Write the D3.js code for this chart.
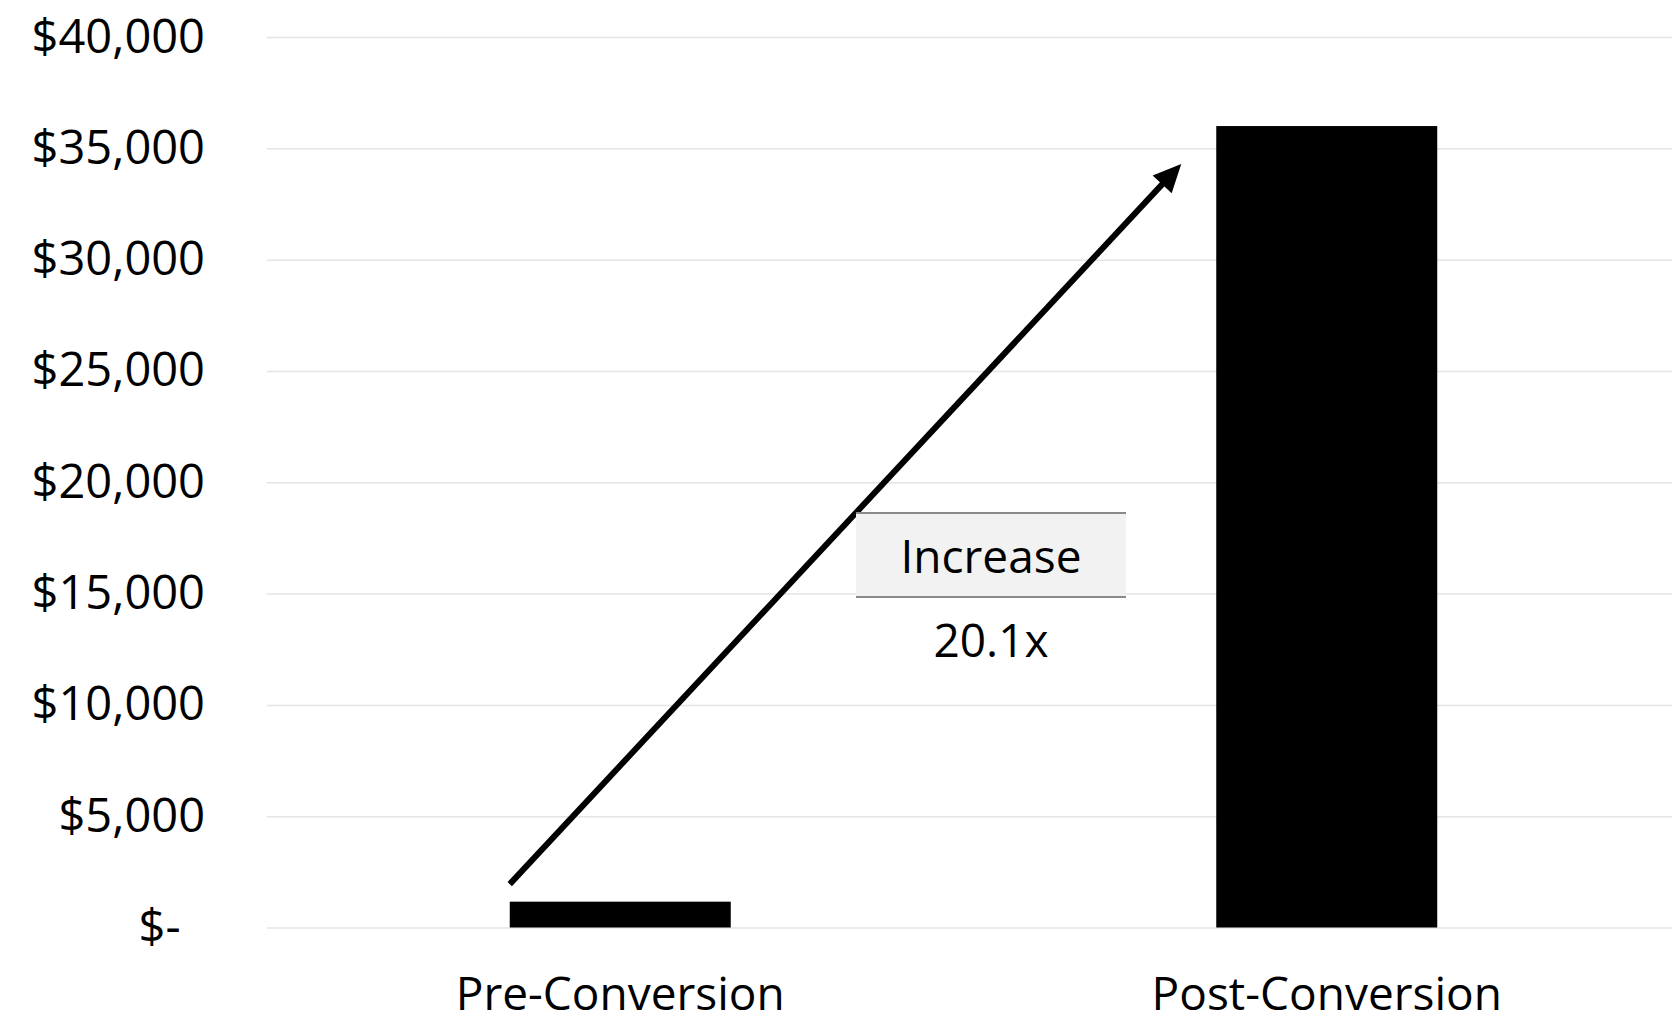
<!DOCTYPE html>
<html>
<head>
<meta charset="utf-8">
<script src="https://cdn.jsdelivr.net/npm/d3@7"></script>
<style>
  html, body { margin: 0; padding: 0; background: #fff; }
  svg { display: block; font-family: "Open Sans", "Noto Sans", sans-serif; }
</style>
</head>
<body>
<svg id="chart" width="1672" height="1022"></svg>
<script>
// Monthly value before and after conversion
const categories = ["Pre-Conversion", "Post-Conversion"];
const values = [1160, 36000];
const yTicks = [0, 5000, 10000, 15000, 20000, 25000, 30000, 35000, 40000];
const increaseTitle = "Increase";
const increaseText = "20.1x";

const W = 1672, H = 1022;
const plotLeft = 267, plotRight = 1680;
const plotTop = 37, plotBottom = 927.5;

const svg = d3.select("#chart");

const x = d3.scaleBand()
  .domain(categories)
  .range([plotLeft, plotRight])
  .paddingInner(0.6872)
  .paddingOuter(0.3436);

const y = d3.scaleLinear()
  .domain([0, 40000])
  .range([plotBottom, plotTop]);

const fmt = d => d === 0 ? "$-\u00A0\u00A0" : "$" + d3.format(",")(d);

// Y axis with gridlines
const yAxis = svg.append("g")
  .attr("transform", `translate(${plotLeft},0)`)
  .call(d3.axisLeft(y)
    .tickValues(yTicks)
    .tickSize(-(W - plotLeft))
    .tickPadding(62)
    .tickFormat(fmt));
yAxis.select(".domain").remove();
yAxis.selectAll(".tick line")
  .attr("stroke", "#e4e4e4")
  .attr("stroke-width", 1.5);
yAxis.selectAll(".tick text")
  .attr("fill", "#000")
  .style("font-size", "47px")
  .style("font-family", "'Open Sans', sans-serif");

// Bars
svg.append("g")
  .selectAll("rect")
  .data(categories)
  .join("rect")
  .attr("x", d => x(d))
  .attr("width", x.bandwidth())
  .attr("y", (d, i) => y(values[i]))
  .attr("height", (d, i) => y(0) - y(values[i]))
  .attr("fill", "#000");

// Category labels
const xAxis = svg.append("g")
  .attr("transform", `translate(0,${plotBottom})`)
  .call(d3.axisBottom(x).tickSize(0).tickPadding(0));
xAxis.select(".domain").remove();
xAxis.selectAll(".tick text")
  .attr("y", 82)
  .attr("dy", 0)
  .attr("fill", "#000")
  .style("font-size", "46px")
  .style("font-family", "'Open Sans', sans-serif");

// Growth arrow from the first bar towards the second
const x0 = x(categories[0]), y0 = y(1950);
const x1 = x(categories[1]) - 35, y1 = y(34300);
const dx = x1 - x0, dy = y1 - y0;
const len = Math.hypot(dx, dy);
const ux = dx / len, uy = dy / len;
const headLen = 28, headHalf = 13;
const bx = x1 - ux * headLen, by = y1 - uy * headLen;

svg.append("line")
  .attr("x1", x0).attr("y1", y0)
  .attr("x2", bx + ux * 2).attr("y2", by + uy * 2)
  .attr("stroke", "#000")
  .attr("stroke-width", 6);
svg.append("path")
  .attr("d", `M${x1},${y1}L${bx - uy * headHalf},${by + ux * headHalf}L${bx + uy * headHalf},${by - ux * headHalf}Z`)
  .attr("fill", "#000");

// Increase callout
const box = svg.append("g");
const bxL = 856, bxR = 1126, bTop = 513, bBot = 597;
box.append("rect")
  .attr("x", bxL).attr("y", bTop)
  .attr("width", bxR - bxL).attr("height", bBot - bTop)
  .attr("fill", "#f2f2f2");
box.selectAll("line")
  .data([bTop, bBot])
  .join("line")
  .attr("x1", bxL).attr("x2", bxR)
  .attr("y1", d => d).attr("y2", d => d)
  .attr("stroke", "#8a8a8a")
  .attr("stroke-width", 2);
box.append("text")
  .attr("x", (bxL + bxR) / 2)
  .attr("y", 572.7)
  .attr("text-anchor", "middle")
  .style("font-size", "46px")
  .text(increaseTitle);
box.append("text")
  .attr("x", (bxL + bxR) / 2)
  .attr("y", 656.7)
  .attr("text-anchor", "middle")
  .style("font-size", "46px")
  .text(increaseText);
</script>
</body>
</html>
